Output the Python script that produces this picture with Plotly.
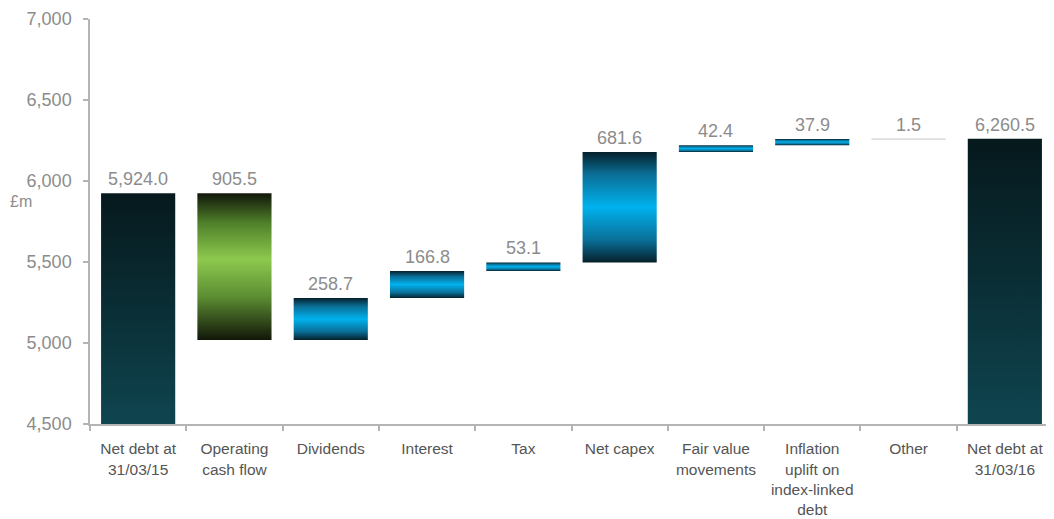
import plotly.graph_objects as go

# ---- data ----
categories = ["Net debt at<br>31/03/15", "Operating<br>cash flow", "Dividends", "Interest", "Tax",
              "Net capex", "Fair value<br>movements", "Inflation<br>uplift on<br>index-linked<br>debt",
              "Other", "Net debt at<br>31/03/16"]
opening_debt = 5924.0
movements = [-905.5, 258.7, 166.8, 53.1, 681.6, 42.4, 37.9, 1.5]
closing_debt = 6260.5
y_ticks = [4500, 5000, 5500, 6000, 6500, 7000]

# ---- styles ----
BAR_W = 0.77
GRAD_TOTAL = [[0, "#0f4550"], [0.5, "#0a2e35"], [1, "#06191d"]]
GRAD_DOWN = [[0, "#121709"], [0.3, "#5d8f33"], [0.55, "#8dc94e"], [0.8, "#4f7f2a"], [1, "#11160a"]]
GRAD_UP = [[0, "#05202b"], [0.2, "#0a6e96"], [0.5, "#00b2ee"], [0.8, "#0a6e96"], [1, "#05202b"]]
LABEL_GREY = "#8c8c8c"
AXIS_GREY = "#b4b4b4"
FONT = "Liberation Sans, Arial"

# build bar extents from the data
bars = []  # (lo, hi, kind, label)
bars.append((y_ticks[0], opening_debt, "total", f"{opening_debt:,.1f}"))
level = opening_debt
for d in movements:
    new = level + d
    bars.append((min(level, new), max(level, new), "down" if d < 0 else "up", f"{abs(d):,.1f}"))
    level = new
bars.append((y_ticks[0], closing_debt, "total", f"{closing_debt:,.1f}"))

fig = go.Figure()
for i, (lo, hi, kind, lab) in enumerate(bars):
    x0, x1 = i - BAR_W / 2, i + BAR_W / 2
    grad = {"total": GRAD_TOTAL, "down": GRAD_DOWN, "up": GRAD_UP}[kind]
    thin = (hi - lo) < 10
    fig.add_trace(go.Scatter(
        x=[x0, x1, x1, x0, x0], y=[lo, lo, hi, hi, lo],
        mode="lines", fill="toself",
        fillgradient=dict(type="vertical", colorscale=grad),
        line=dict(width=1.2 if thin else 0, color="#d2d2d2"),
        hoverinfo="skip", showlegend=False))
    fig.add_annotation(x=i, y=hi, text=lab, showarrow=False, yanchor="bottom", yshift=2,
                       font=dict(size=18, color=LABEL_GREY, family=FONT))

fig.add_annotation(xref="paper", yref="y", x=-82 / 963, xanchor="left", y=5875, text="£m",
                   showarrow=False, font=dict(size=16, color=LABEL_GREY, family=FONT))

fig.update_layout(
    width=1046, height=511,
    margin=dict(l=82, r=1, t=7, b=86),
    paper_bgcolor="white", plot_bgcolor="white",
    font=dict(family=FONT, size=16),
    xaxis=dict(range=[-0.5, len(categories) - 0.5], tickvals=list(range(len(categories))),
               ticktext=categories, ticks="", showgrid=False, zeroline=False,
               showline=True, linecolor=AXIS_GREY, linewidth=1.5,
               tickfont=dict(size=15.5, color="#555555"),
               minor=dict(tick0=-0.5, dtick=1, ticks="outside", ticklen=5, tickcolor=AXIS_GREY,
                          tickwidth=1.5, showgrid=False),
               ticklabelstandoff=10),
    yaxis=dict(range=[y_ticks[0], y_ticks[-1]], tickvals=y_ticks, ticktext=[f"{v:,}" for v in y_ticks],
               ticks="outside", ticklen=5, tickcolor=AXIS_GREY, tickwidth=1.5,
               showgrid=False, zeroline=False, showline=True, linecolor=AXIS_GREY, linewidth=1.5,
               tickfont=dict(size=18, color=LABEL_GREY), ticklabelstandoff=8,
               ticklabeloverflow="allow"),
)

fig.write_html("out.html")
